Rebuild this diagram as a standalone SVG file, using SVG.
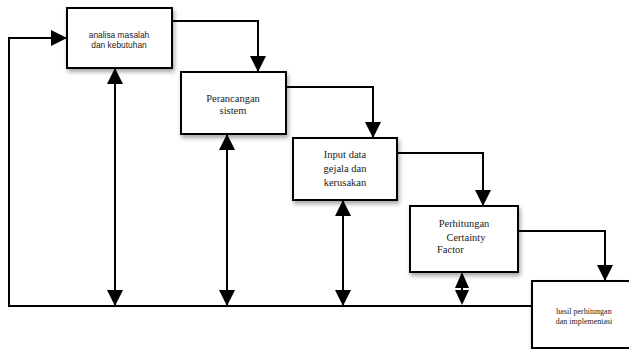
<svg xmlns="http://www.w3.org/2000/svg" width="629" height="349" viewBox="0 0 629 349">
<style>
.box{fill:#fff;stroke:#000;stroke-width:2;filter:url(#sh)}
.ln{fill:none;stroke:#000;stroke-width:2}
.sans{font-family:"Liberation Sans",Arial,sans-serif;font-size:8.4px;fill:#222;text-anchor:middle}
.serif{font-family:"Liberation Serif","Times New Roman",serif;font-size:10.5px;fill:#222;text-anchor:middle}
.small{font-family:"Liberation Serif","Times New Roman",serif;font-size:8px;fill:#222;text-anchor:middle}
</style>
<defs>
<filter id="sh" x="-20%" y="-20%" width="140%" height="150%">
<feDropShadow dx="1.5" dy="3" stdDeviation="2" flood-color="#000" flood-opacity="0.35"/>
</filter>
<marker id="ah" viewBox="0 0 16 16" refX="16" refY="8" markerWidth="16" markerHeight="16" markerUnits="userSpaceOnUse" orient="auto-start-reverse">
<path d="M0,0 L16,8 L0,16 Z" fill="#000"/>
</marker>
</defs>
<rect width="629" height="349" fill="#fff"/>
<g id="connectors">
<polyline class="ln" points="172,21 258,21 258,72" marker-end="url(#ah)"/>
<polyline class="ln" points="286,87 373,87 373,138" marker-end="url(#ah)"/>
<polyline class="ln" points="397,153 483,153 483,206" marker-end="url(#ah)"/>
<polyline class="ln" points="518,231 605,231 605,281" marker-end="url(#ah)"/>
<polyline class="ln" points="532,306 9,306 9,38 67,38" marker-end="url(#ah)"/>
<line class="ln" x1="115" y1="68" x2="115" y2="306" marker-start="url(#ah)" marker-end="url(#ah)"/>
<line class="ln" x1="227" y1="134" x2="227" y2="306" marker-start="url(#ah)" marker-end="url(#ah)"/>
<line class="ln" x1="343" y1="200" x2="343" y2="306" marker-start="url(#ah)" marker-end="url(#ah)"/>
<path d="M462,272 L469,288 L455,288 Z M462,305 L469,290 L455,290 Z" fill="#000"/>
<line class="ln" x1="462" y1="286" x2="462" y2="292"/>
</g>
<g id="n1">
<rect class="box" x="67" y="8" width="105" height="60"/>
<text class="sans" x="119" y="38">analisa masalah</text>
<text class="sans" x="119" y="48">dan kebutuhan</text>
</g>
<g id="n2">
<rect class="box" x="181" y="72" width="105" height="62"/>
<text class="serif" x="233" y="102">Perancangan</text>
<text class="serif" x="233" y="114">sistem</text>
</g>
<g id="n3">
<rect class="box" x="293" y="138" width="104" height="62"/>
<text class="serif" x="345" y="158">Input data</text>
<text class="serif" x="345" y="172">gejala dan</text>
<text class="serif" x="345" y="186">kerusakan</text>
</g>
<g id="n4">
<rect class="box" x="410" y="206" width="108" height="66"/>
<text class="serif" x="464" y="227">Perhitungan</text>
<text class="serif" x="466" y="241">Certainty</text>
<text class="serif" x="437" y="253" style="text-anchor:start">Factor</text>
</g>
<g id="n5">
<rect class="box" x="532" y="281" width="104" height="67"/>
<text class="small" x="584" y="314">hasil perhitungan</text>
<text class="small" x="584" y="324">dan implementasi</text>
</g>
</svg>
